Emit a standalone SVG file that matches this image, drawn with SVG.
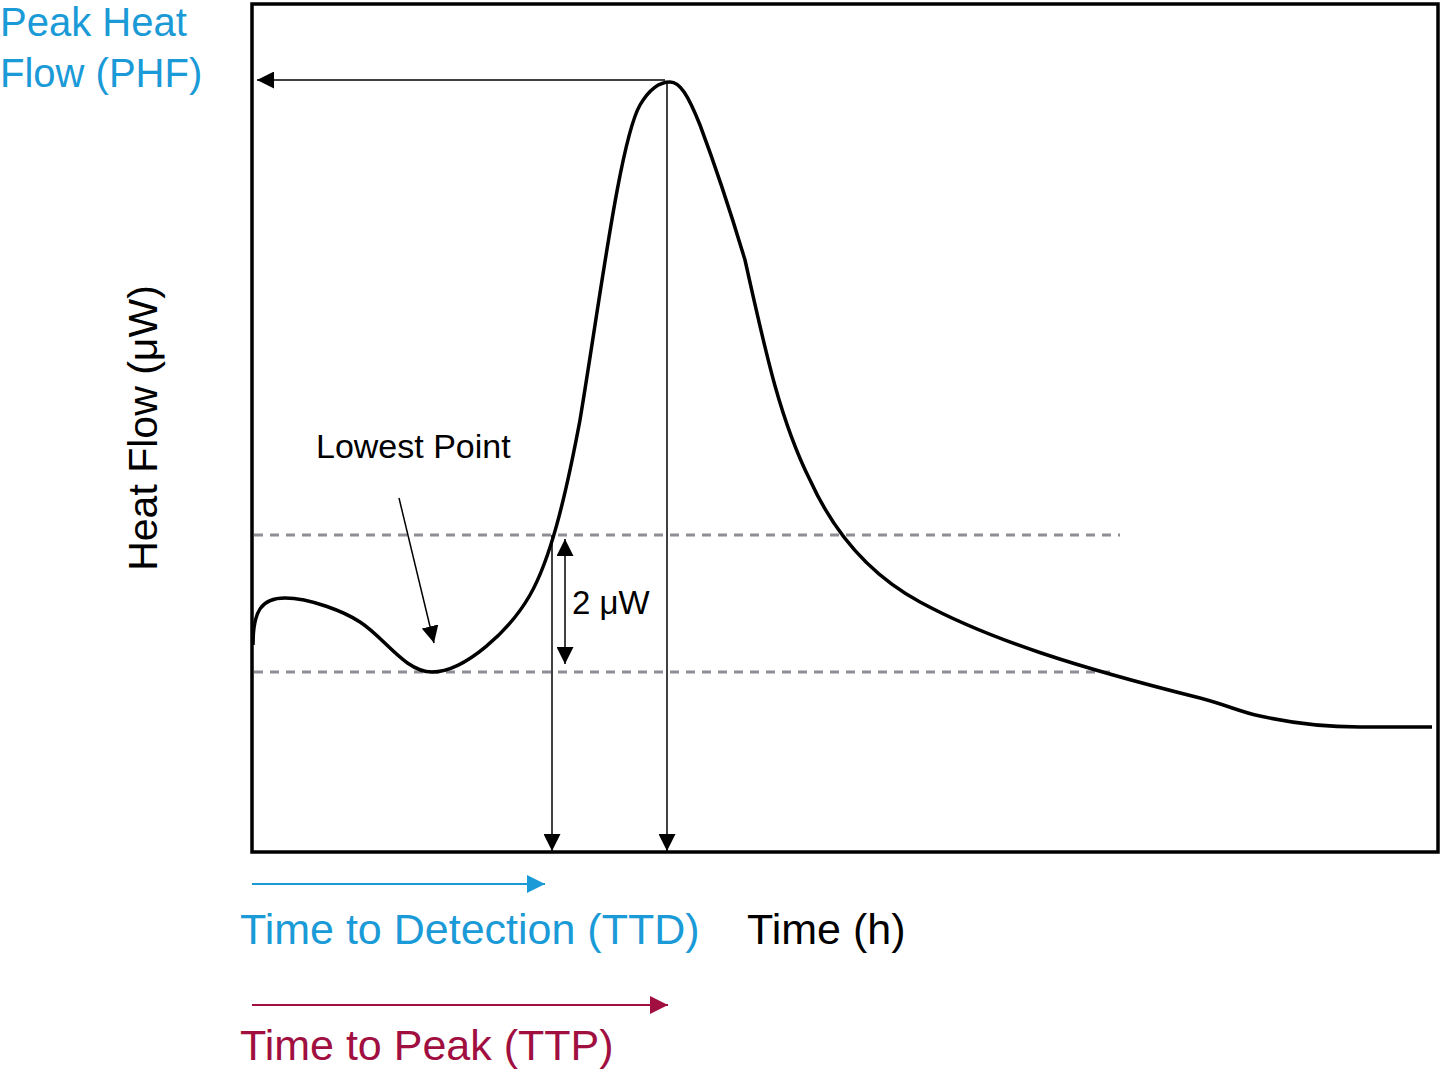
<svg xmlns="http://www.w3.org/2000/svg" width="1441" height="1071" viewBox="0 0 1441 1071">
<style>
text{font-family:"Liberation Sans",Arial,sans-serif}
.ln{stroke:#000;stroke-width:1.5;fill:none}
.dash{stroke:#8e8e96;stroke-width:3;stroke-dasharray:9,7;fill:none}
</style>
<defs>
<marker id="ak" viewBox="0 0 10 10" refX="10" refY="5" markerWidth="17" markerHeight="17" markerUnits="userSpaceOnUse" orient="auto-start-reverse"><path d="M0,0L10,5L0,10z" fill="#000"/></marker>
<marker id="ab" viewBox="0 0 10 10" refX="10" refY="5" markerWidth="18" markerHeight="18" markerUnits="userSpaceOnUse" orient="auto"><path d="M0,0L10,5L0,10z" fill="#1a9ad6"/></marker>
<marker id="ar" viewBox="0 0 10 10" refX="10" refY="5" markerWidth="18" markerHeight="18" markerUnits="userSpaceOnUse" orient="auto"><path d="M0,0L10,5L0,10z" fill="#a00f3f"/></marker>
</defs>
<rect x="252" y="4" width="1186" height="848" fill="none" stroke="#000" stroke-width="3.5"/>
<g id="dashes">
<line class="dash" x1="254" y1="535" x2="1120" y2="535"/>
<line class="dash" x1="254" y1="672" x2="1110" y2="672"/>
</g>
<path d="M253,645 C253,610 262,598 285,598 C310,598 345,612 360,622 C385,638 405,672 432,672 C465,672 510,630 530,595 C550,560 565,500 580,420 C600,300 620,140 640,105 C650,88 660,82 670,82 C680,82 688,95 700,125 C715,165 730,210 745,260 C765,350 780,420 810,480 C835,535 870,575 920,602 C990,640 1080,668 1200,698 C1230,706 1240,712 1260,716 C1300,725 1340,727 1360,727 L1432,727" fill="none" stroke="#000" stroke-width="3.5"/>
<g id="connectors">
<line class="ln" x1="665" y1="80" x2="257" y2="80" marker-end="url(#ak)"/>
<line class="ln" x1="552" y1="535" x2="552" y2="851" marker-end="url(#ak)"/>
<line class="ln" x1="667" y1="84" x2="667" y2="851" marker-end="url(#ak)"/>
<line class="ln" x1="565" y1="539" x2="565" y2="664" marker-start="url(#ak)" marker-end="url(#ak)"/>
<line class="ln" x1="399" y1="498" x2="434" y2="643" marker-end="url(#ak)"/>
<line x1="252" y1="884" x2="545" y2="884" stroke="#1a9ad6" stroke-width="2" marker-end="url(#ab)"/>
<line x1="252" y1="1005" x2="668" y2="1005" stroke="#a00f3f" stroke-width="2" marker-end="url(#ar)"/>
</g>
<g id="labels">
<text x="0" y="36" font-size="40" fill="#1a9ad6">Peak Heat</text>
<text x="0" y="87" font-size="40" fill="#1a9ad6">Flow (PHF)</text>
<text transform="translate(157,428) rotate(-90)" text-anchor="middle" font-size="41">Heat Flow (μW)</text>
<text x="316" y="458" font-size="34">Lowest Point</text>
<text x="572" y="614" font-size="33">2 μW</text>
<text x="240" y="944" font-size="43" fill="#1a9ad6">Time to Detection (TTD)</text>
<text x="747" y="944" font-size="43">Time (h)</text>
<text x="240" y="1060" font-size="43" fill="#a00f3f">Time to Peak (TTP)</text>
</g>
</svg>
